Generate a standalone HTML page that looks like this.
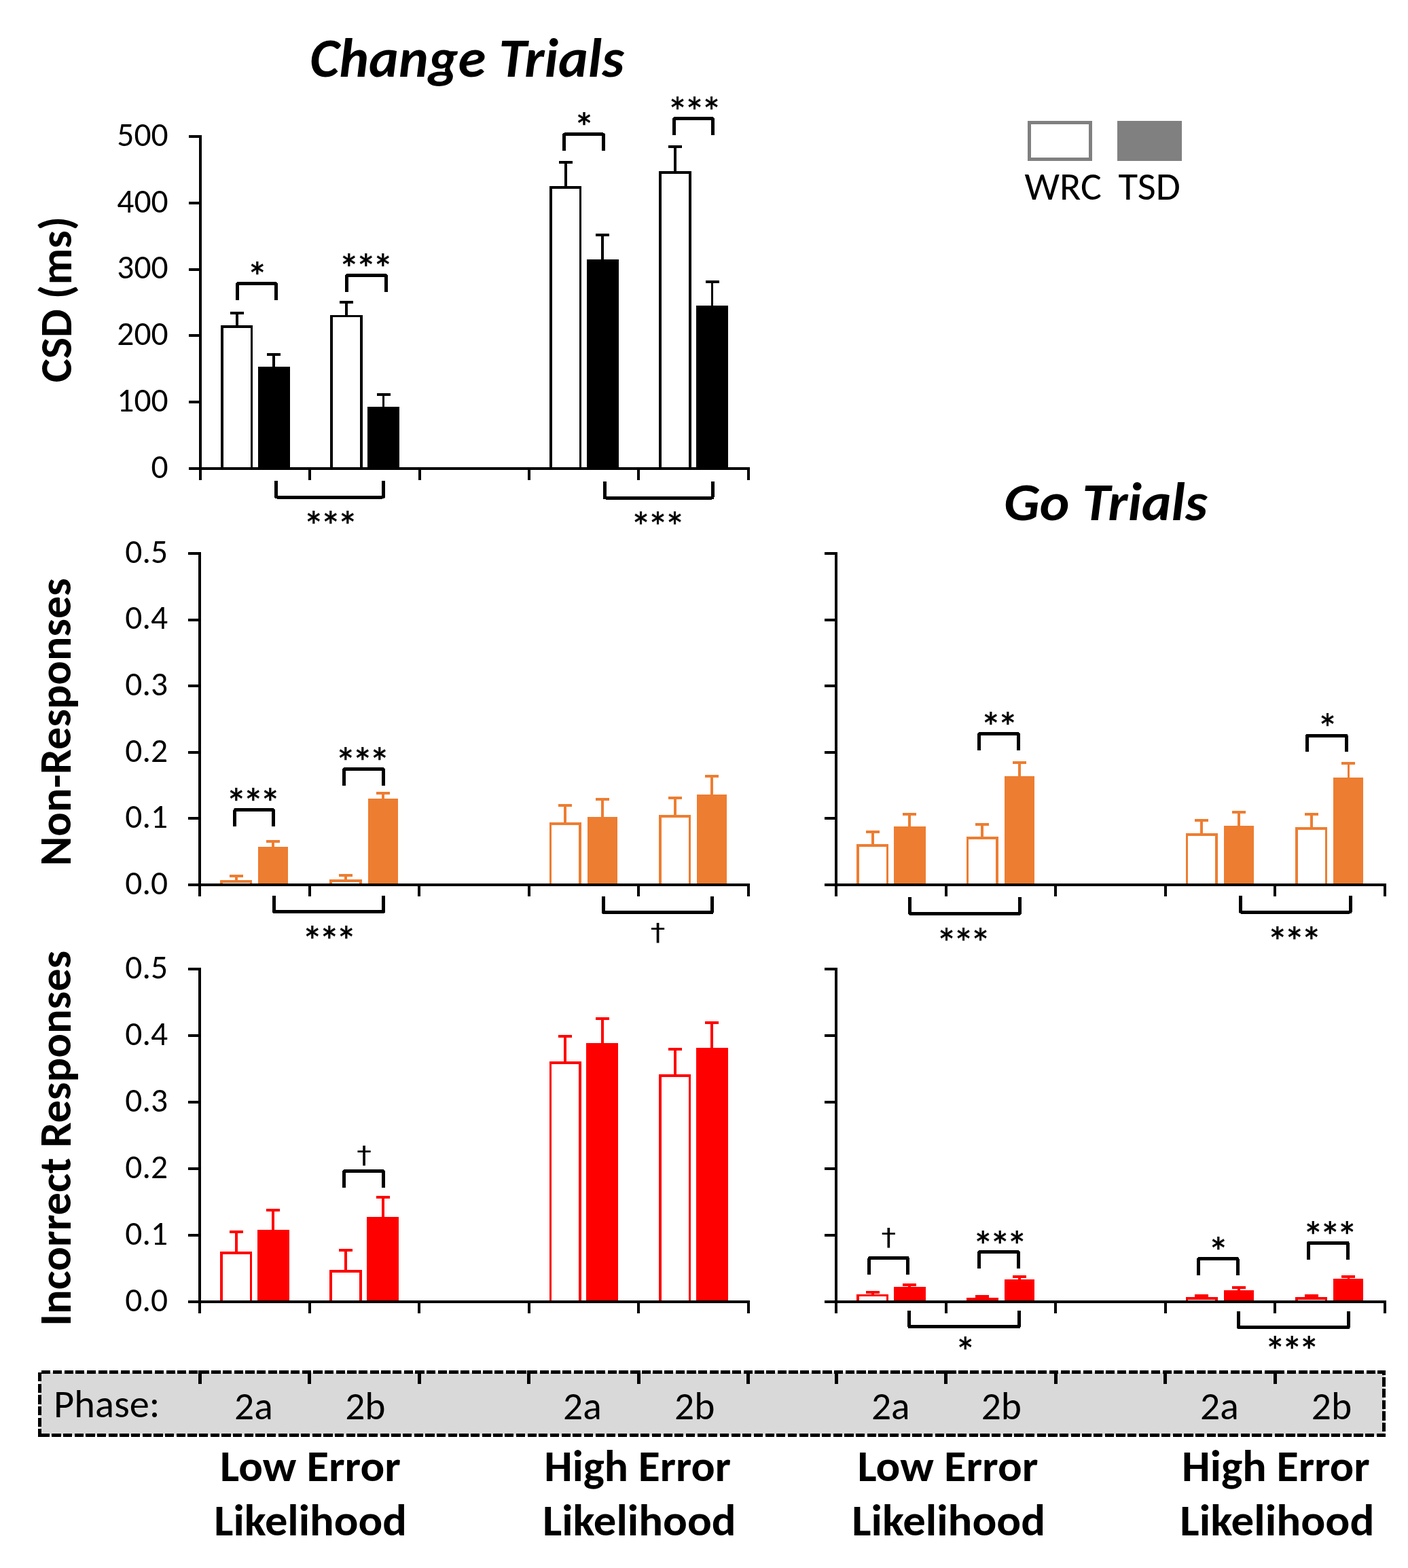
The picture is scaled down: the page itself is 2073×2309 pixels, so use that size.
<!DOCTYPE html>
<html><head><meta charset="utf-8"><title>Change and Go Trials</title>
<style>html,body{margin:0;padding:0;background:#fff;}svg{display:block;}text{font-size-adjust:cap-height 0.6417;}text[font-weight=bold]{font-size-adjust:cap-height 0.6485;}</style>
</head><body>
<svg width="2073" height="2309" viewBox="0 0 2073 2309" shape-rendering="crispEdges">
<rect x="0" y="0" width="2073" height="2309" fill="#fff"/>
<text x="456.21" y="113.49" font-size="80.69" font-family="Carlito, 'Liberation Sans', sans-serif" font-weight="bold" font-style="italic" fill="#000000" textLength="462.81" lengthAdjust="spacingAndGlyphs">Change Trials</text>
<text x="1477.9" y="765.6" font-size="79.72" font-family="Carlito, 'Liberation Sans', sans-serif" font-weight="bold" font-style="italic" fill="#000000" textLength="299.67" lengthAdjust="spacingAndGlyphs">Go Trials</text>
<rect x="1515.5" y="180.5" width="90" height="53.6" fill="#fff" stroke="#808080" stroke-width="5"/>
<rect x="1645" y="178" width="95" height="58.6" fill="#808080"/>
<text x="1508.51" y="293.52" font-size="56.77" font-family="Carlito, 'Liberation Sans', sans-serif" fill="#000000" textLength="113.27" lengthAdjust="spacingAndGlyphs">WRC</text>
<text x="1646.41" y="293.52" font-size="56.77" font-family="Carlito, 'Liberation Sans', sans-serif" fill="#000000" textLength="91.47" lengthAdjust="spacingAndGlyphs">TSD</text>
<text transform="translate(104.72 563.33) rotate(-90)" x="0" y="0" font-size="65.84" font-family="Carlito, 'Liberation Sans', sans-serif" font-weight="bold" fill="#000" textLength="244.76" lengthAdjust="spacingAndGlyphs">CSD (ms)</text>
<text transform="translate(103.81 1275.27) rotate(-90)" x="0" y="0" font-size="66.79" font-family="Carlito, 'Liberation Sans', sans-serif" font-weight="bold" fill="#000" textLength="423.92" lengthAdjust="spacingAndGlyphs">Non-Responses</text>
<text transform="translate(103.93 1952.66) rotate(-90)" x="0" y="0" font-size="66.05" font-family="Carlito, 'Liberation Sans', sans-serif" font-weight="bold" fill="#000" textLength="552.9" lengthAdjust="spacingAndGlyphs">Incorrect Responses</text>
<text x="247.6" y="703.84" font-size="49.5" font-family="Carlito, 'Liberation Sans', sans-serif" text-anchor="end" fill="#000" textLength="25.09" lengthAdjust="spacingAndGlyphs">0</text>
<text x="247.6" y="606.04" font-size="49.5" font-family="Carlito, 'Liberation Sans', sans-serif" text-anchor="end" fill="#000" textLength="75.27" lengthAdjust="spacingAndGlyphs">100</text>
<text x="247.6" y="508.24" font-size="49.5" font-family="Carlito, 'Liberation Sans', sans-serif" text-anchor="end" fill="#000" textLength="75.27" lengthAdjust="spacingAndGlyphs">200</text>
<text x="247.6" y="410.44" font-size="49.5" font-family="Carlito, 'Liberation Sans', sans-serif" text-anchor="end" fill="#000" textLength="75.27" lengthAdjust="spacingAndGlyphs">300</text>
<text x="247.6" y="312.64" font-size="49.5" font-family="Carlito, 'Liberation Sans', sans-serif" text-anchor="end" fill="#000" textLength="75.27" lengthAdjust="spacingAndGlyphs">400</text>
<text x="247.6" y="214.84" font-size="49.5" font-family="Carlito, 'Liberation Sans', sans-serif" text-anchor="end" fill="#000" textLength="75.27" lengthAdjust="spacingAndGlyphs">500</text>
<path d="M348.6 482V460.9M338.6 460.9H358.6" stroke="#000000" stroke-width="3.8" fill="none"/>
<path d="M403.2 542.8V521.9M393.2 521.9H413.2" stroke="#000000" stroke-width="3.8" fill="none"/>
<rect x="326.8" y="480.85" width="43.6" height="209.15" fill="#fff" stroke="#000000" stroke-width="3.7"/>
<rect x="381.4" y="541.65" width="43.6" height="148.35" fill="#000000" stroke="#000000" stroke-width="3.7"/>
<path d="M509.94 466.7V445.2M499.94 445.2H519.94" stroke="#000000" stroke-width="3.8" fill="none"/>
<path d="M564.54 601.9V580.9M554.54 580.9H574.54" stroke="#000000" stroke-width="3.8" fill="none"/>
<rect x="488.14" y="465.55" width="43.6" height="224.45" fill="#fff" stroke="#000000" stroke-width="3.7"/>
<rect x="542.74" y="600.75" width="43.6" height="89.25" fill="#000000" stroke="#000000" stroke-width="3.7"/>
<path d="M832.62 277.2V238.9M822.62 238.9H842.62" stroke="#000000" stroke-width="3.8" fill="none"/>
<path d="M887.22 384.9V345.9M877.22 345.9H897.22" stroke="#000000" stroke-width="3.8" fill="none"/>
<rect x="810.82" y="276.05" width="43.6" height="413.95" fill="#fff" stroke="#000000" stroke-width="3.7"/>
<rect x="865.42" y="383.75" width="43.6" height="306.25" fill="#000000" stroke="#000000" stroke-width="3.7"/>
<path d="M993.96 255V215.9M983.96 215.9H1003.96" stroke="#000000" stroke-width="3.8" fill="none"/>
<path d="M1048.56 453V414.9M1038.56 414.9H1058.56" stroke="#000000" stroke-width="3.8" fill="none"/>
<rect x="972.16" y="253.85" width="43.6" height="436.15" fill="#fff" stroke="#000000" stroke-width="3.7"/>
<rect x="1026.76" y="451.85" width="43.6" height="238.15" fill="#000000" stroke="#000000" stroke-width="3.7"/>
<line x1="295" y1="199" x2="295" y2="706.5" stroke="#000" stroke-width="4"/>
<line x1="278" y1="690" x2="295" y2="690" stroke="#000" stroke-width="4"/>
<line x1="278" y1="592.2" x2="295" y2="592.2" stroke="#000" stroke-width="4"/>
<line x1="278" y1="494.4" x2="295" y2="494.4" stroke="#000" stroke-width="4"/>
<line x1="278" y1="396.6" x2="295" y2="396.6" stroke="#000" stroke-width="4"/>
<line x1="278" y1="298.8" x2="295" y2="298.8" stroke="#000" stroke-width="4"/>
<line x1="278" y1="201" x2="295" y2="201" stroke="#000" stroke-width="4"/>
<line x1="293" y1="690" x2="1103.5" y2="690" stroke="#000" stroke-width="4"/>
<line x1="295" y1="690" x2="295" y2="706.5" stroke="#000" stroke-width="4"/>
<line x1="456.34" y1="690" x2="456.34" y2="706.5" stroke="#000" stroke-width="4"/>
<line x1="617.68" y1="690" x2="617.68" y2="706.5" stroke="#000" stroke-width="4"/>
<line x1="779.02" y1="690" x2="779.02" y2="706.5" stroke="#000" stroke-width="4"/>
<line x1="940.36" y1="690" x2="940.36" y2="706.5" stroke="#000" stroke-width="4"/>
<line x1="1101.7" y1="690" x2="1101.7" y2="706.5" stroke="#000" stroke-width="4"/>
<text x="247" y="1316.84" font-size="49.5" font-family="Carlito, 'Liberation Sans', sans-serif" text-anchor="end" fill="#000" textLength="62.68" lengthAdjust="spacingAndGlyphs">0.0</text>
<text x="247" y="1219.24" font-size="49.5" font-family="Carlito, 'Liberation Sans', sans-serif" text-anchor="end" fill="#000" textLength="62.68" lengthAdjust="spacingAndGlyphs">0.1</text>
<text x="247" y="1121.64" font-size="49.5" font-family="Carlito, 'Liberation Sans', sans-serif" text-anchor="end" fill="#000" textLength="62.68" lengthAdjust="spacingAndGlyphs">0.2</text>
<text x="247" y="1024.04" font-size="49.5" font-family="Carlito, 'Liberation Sans', sans-serif" text-anchor="end" fill="#000" textLength="62.68" lengthAdjust="spacingAndGlyphs">0.3</text>
<text x="247" y="926.44" font-size="49.5" font-family="Carlito, 'Liberation Sans', sans-serif" text-anchor="end" fill="#000" textLength="62.68" lengthAdjust="spacingAndGlyphs">0.4</text>
<text x="247" y="828.84" font-size="49.5" font-family="Carlito, 'Liberation Sans', sans-serif" text-anchor="end" fill="#000" textLength="62.68" lengthAdjust="spacingAndGlyphs">0.5</text>
<path d="M347.6 1299.2V1290.2M337.6 1290.2H357.6" stroke="#ED7D31" stroke-width="3.8" fill="none"/>
<path d="M402.2 1250.1V1239.1M392.2 1239.1H412.2" stroke="#ED7D31" stroke-width="3.8" fill="none"/>
<rect x="325.8" y="1298.05" width="43.6" height="4.95" fill="#fff" stroke="#ED7D31" stroke-width="3.7"/>
<rect x="380.2" y="1247.1" width="44" height="55.9" fill="#ED7D31"/>
<path d="M509.12 1298.2V1289.2M499.12 1289.2H519.12" stroke="#ED7D31" stroke-width="3.8" fill="none"/>
<path d="M563.72 1179.1V1168.3M553.72 1168.3H573.72" stroke="#ED7D31" stroke-width="3.8" fill="none"/>
<rect x="487.32" y="1297.05" width="43.6" height="5.95" fill="#fff" stroke="#ED7D31" stroke-width="3.7"/>
<rect x="541.72" y="1176.1" width="44" height="126.9" fill="#ED7D31"/>
<path d="M832.16 1214.1V1185.9M822.16 1185.9H842.16" stroke="#ED7D31" stroke-width="3.8" fill="none"/>
<path d="M886.76 1206V1176.9M876.76 1176.9H896.76" stroke="#ED7D31" stroke-width="3.8" fill="none"/>
<rect x="810.36" y="1212.95" width="43.6" height="90.05" fill="#fff" stroke="#ED7D31" stroke-width="3.7"/>
<rect x="864.76" y="1203" width="44" height="100" fill="#ED7D31"/>
<path d="M993.68 1203V1175.2M983.68 1175.2H1003.68" stroke="#ED7D31" stroke-width="3.8" fill="none"/>
<path d="M1048.28 1173V1143.1M1038.28 1143.1H1058.28" stroke="#ED7D31" stroke-width="3.8" fill="none"/>
<rect x="971.88" y="1201.85" width="43.6" height="101.15" fill="#fff" stroke="#ED7D31" stroke-width="3.7"/>
<rect x="1026.28" y="1170" width="44" height="133" fill="#ED7D31"/>
<line x1="294" y1="813" x2="294" y2="1319.5" stroke="#000" stroke-width="4"/>
<line x1="277" y1="1303" x2="294" y2="1303" stroke="#000" stroke-width="4"/>
<line x1="277" y1="1205.4" x2="294" y2="1205.4" stroke="#000" stroke-width="4"/>
<line x1="277" y1="1107.8" x2="294" y2="1107.8" stroke="#000" stroke-width="4"/>
<line x1="277" y1="1010.2" x2="294" y2="1010.2" stroke="#000" stroke-width="4"/>
<line x1="277" y1="912.6" x2="294" y2="912.6" stroke="#000" stroke-width="4"/>
<line x1="277" y1="815" x2="294" y2="815" stroke="#000" stroke-width="4"/>
<line x1="292" y1="1303" x2="1103.5" y2="1303" stroke="#000" stroke-width="4"/>
<line x1="294" y1="1303" x2="294" y2="1319.5" stroke="#000" stroke-width="4"/>
<line x1="455.52" y1="1303" x2="455.52" y2="1319.5" stroke="#000" stroke-width="4"/>
<line x1="617.04" y1="1303" x2="617.04" y2="1319.5" stroke="#000" stroke-width="4"/>
<line x1="778.56" y1="1303" x2="778.56" y2="1319.5" stroke="#000" stroke-width="4"/>
<line x1="940.08" y1="1303" x2="940.08" y2="1319.5" stroke="#000" stroke-width="4"/>
<line x1="1101.6" y1="1303" x2="1101.6" y2="1319.5" stroke="#000" stroke-width="4"/>
<path d="M1284.6 1246.3V1225.1M1274.6 1225.1H1294.6" stroke="#ED7D31" stroke-width="3.8" fill="none"/>
<path d="M1339.2 1220.2V1198.9M1329.2 1198.9H1349.2" stroke="#ED7D31" stroke-width="3.8" fill="none"/>
<rect x="1262.8" y="1245.15" width="43.6" height="57.85" fill="#fff" stroke="#ED7D31" stroke-width="3.7"/>
<rect x="1317.4" y="1219.05" width="43.6" height="83.95" fill="#ED7D31" stroke="#ED7D31" stroke-width="3.7"/>
<path d="M1446.16 1235V1214.2M1436.16 1214.2H1456.16" stroke="#ED7D31" stroke-width="3.8" fill="none"/>
<path d="M1500.76 1146V1123.2M1490.76 1123.2H1510.76" stroke="#ED7D31" stroke-width="3.8" fill="none"/>
<rect x="1424.36" y="1233.85" width="43.6" height="69.15" fill="#fff" stroke="#ED7D31" stroke-width="3.7"/>
<rect x="1478.76" y="1143" width="44" height="160" fill="#ED7D31"/>
<path d="M1769.28 1229.9V1208M1759.28 1208H1779.28" stroke="#ED7D31" stroke-width="3.8" fill="none"/>
<path d="M1823.88 1218.6V1196.2M1813.88 1196.2H1833.88" stroke="#ED7D31" stroke-width="3.8" fill="none"/>
<rect x="1747.48" y="1228.75" width="43.6" height="74.25" fill="#fff" stroke="#ED7D31" stroke-width="3.7"/>
<rect x="1801.88" y="1215.6" width="44" height="87.4" fill="#ED7D31"/>
<path d="M1930.84 1221V1199.1M1920.84 1199.1H1940.84" stroke="#ED7D31" stroke-width="3.8" fill="none"/>
<path d="M1985.44 1147.8V1123.9M1975.44 1123.9H1995.44" stroke="#ED7D31" stroke-width="3.8" fill="none"/>
<rect x="1909.04" y="1219.85" width="43.6" height="83.15" fill="#fff" stroke="#ED7D31" stroke-width="3.7"/>
<rect x="1963.44" y="1144.8" width="44" height="158.2" fill="#ED7D31"/>
<line x1="1231" y1="813" x2="1231" y2="1319.5" stroke="#000" stroke-width="4"/>
<line x1="1214" y1="1303" x2="1231" y2="1303" stroke="#000" stroke-width="4"/>
<line x1="1214" y1="1205.4" x2="1231" y2="1205.4" stroke="#000" stroke-width="4"/>
<line x1="1214" y1="1107.8" x2="1231" y2="1107.8" stroke="#000" stroke-width="4"/>
<line x1="1214" y1="1010.2" x2="1231" y2="1010.2" stroke="#000" stroke-width="4"/>
<line x1="1214" y1="912.6" x2="1231" y2="912.6" stroke="#000" stroke-width="4"/>
<line x1="1214" y1="815" x2="1231" y2="815" stroke="#000" stroke-width="4"/>
<line x1="1229" y1="1303" x2="2040.5" y2="1303" stroke="#000" stroke-width="4"/>
<line x1="1231" y1="1303" x2="1231" y2="1319.5" stroke="#000" stroke-width="4"/>
<line x1="1392.56" y1="1303" x2="1392.56" y2="1319.5" stroke="#000" stroke-width="4"/>
<line x1="1554.12" y1="1303" x2="1554.12" y2="1319.5" stroke="#000" stroke-width="4"/>
<line x1="1715.68" y1="1303" x2="1715.68" y2="1319.5" stroke="#000" stroke-width="4"/>
<line x1="1877.24" y1="1303" x2="1877.24" y2="1319.5" stroke="#000" stroke-width="4"/>
<line x1="2038.8" y1="1303" x2="2038.8" y2="1319.5" stroke="#000" stroke-width="4"/>
<text x="247" y="1930.84" font-size="49.5" font-family="Carlito, 'Liberation Sans', sans-serif" text-anchor="end" fill="#000" textLength="62.68" lengthAdjust="spacingAndGlyphs">0.0</text>
<text x="247" y="1832.92" font-size="49.5" font-family="Carlito, 'Liberation Sans', sans-serif" text-anchor="end" fill="#000" textLength="62.68" lengthAdjust="spacingAndGlyphs">0.1</text>
<text x="247" y="1735" font-size="49.5" font-family="Carlito, 'Liberation Sans', sans-serif" text-anchor="end" fill="#000" textLength="62.68" lengthAdjust="spacingAndGlyphs">0.2</text>
<text x="247" y="1637.08" font-size="49.5" font-family="Carlito, 'Liberation Sans', sans-serif" text-anchor="end" fill="#000" textLength="62.68" lengthAdjust="spacingAndGlyphs">0.3</text>
<text x="247" y="1539.16" font-size="49.5" font-family="Carlito, 'Liberation Sans', sans-serif" text-anchor="end" fill="#000" textLength="62.68" lengthAdjust="spacingAndGlyphs">0.4</text>
<text x="247" y="1441.24" font-size="49.5" font-family="Carlito, 'Liberation Sans', sans-serif" text-anchor="end" fill="#000" textLength="62.68" lengthAdjust="spacingAndGlyphs">0.5</text>
<path d="M347.6 1846.2V1813.9M337.6 1813.9H357.6" stroke="#FF0000" stroke-width="3.8" fill="none"/>
<path d="M402.2 1813.9V1781.9M392.2 1781.9H412.2" stroke="#FF0000" stroke-width="3.8" fill="none"/>
<rect x="325.8" y="1845.05" width="43.6" height="71.95" fill="#fff" stroke="#FF0000" stroke-width="3.7"/>
<rect x="380.4" y="1812.75" width="43.6" height="104.25" fill="#FF0000" stroke="#FF0000" stroke-width="3.7"/>
<path d="M509.12 1873V1841.1M499.12 1841.1H519.12" stroke="#FF0000" stroke-width="3.8" fill="none"/>
<path d="M563.72 1795V1762.9M553.72 1762.9H573.72" stroke="#FF0000" stroke-width="3.8" fill="none"/>
<rect x="487.32" y="1871.85" width="43.6" height="45.15" fill="#fff" stroke="#FF0000" stroke-width="3.7"/>
<rect x="541.92" y="1793.85" width="43.6" height="123.15" fill="#FF0000" stroke="#FF0000" stroke-width="3.7"/>
<path d="M832.16 1566V1525.8M822.16 1525.8H842.16" stroke="#FF0000" stroke-width="3.8" fill="none"/>
<path d="M886.76 1538.9V1499.9M876.76 1499.9H896.76" stroke="#FF0000" stroke-width="3.8" fill="none"/>
<rect x="810.36" y="1564.85" width="43.6" height="352.15" fill="#fff" stroke="#FF0000" stroke-width="3.7"/>
<rect x="864.96" y="1537.75" width="43.6" height="379.25" fill="#FF0000" stroke="#FF0000" stroke-width="3.7"/>
<path d="M993.68 1585V1544.9M983.68 1544.9H1003.68" stroke="#FF0000" stroke-width="3.8" fill="none"/>
<path d="M1048.28 1545.9V1506M1038.28 1506H1058.28" stroke="#FF0000" stroke-width="3.8" fill="none"/>
<rect x="971.88" y="1583.85" width="43.6" height="333.15" fill="#fff" stroke="#FF0000" stroke-width="3.7"/>
<rect x="1026.48" y="1544.75" width="43.6" height="372.25" fill="#FF0000" stroke="#FF0000" stroke-width="3.7"/>
<line x1="294" y1="1425.4" x2="294" y2="1933.5" stroke="#000" stroke-width="4"/>
<line x1="277" y1="1917" x2="294" y2="1917" stroke="#000" stroke-width="4"/>
<line x1="277" y1="1819.08" x2="294" y2="1819.08" stroke="#000" stroke-width="4"/>
<line x1="277" y1="1721.16" x2="294" y2="1721.16" stroke="#000" stroke-width="4"/>
<line x1="277" y1="1623.24" x2="294" y2="1623.24" stroke="#000" stroke-width="4"/>
<line x1="277" y1="1525.32" x2="294" y2="1525.32" stroke="#000" stroke-width="4"/>
<line x1="277" y1="1427.4" x2="294" y2="1427.4" stroke="#000" stroke-width="4"/>
<line x1="292" y1="1917" x2="1103.5" y2="1917" stroke="#000" stroke-width="4"/>
<line x1="294" y1="1917" x2="294" y2="1933.5" stroke="#000" stroke-width="4"/>
<line x1="455.52" y1="1917" x2="455.52" y2="1933.5" stroke="#000" stroke-width="4"/>
<line x1="617.04" y1="1917" x2="617.04" y2="1933.5" stroke="#000" stroke-width="4"/>
<line x1="778.56" y1="1917" x2="778.56" y2="1933.5" stroke="#000" stroke-width="4"/>
<line x1="940.08" y1="1917" x2="940.08" y2="1933.5" stroke="#000" stroke-width="4"/>
<line x1="1101.6" y1="1917" x2="1101.6" y2="1933.5" stroke="#000" stroke-width="4"/>
<path d="M1284.6 1908.6V1902.9M1274.6 1902.9H1294.6" stroke="#FF0000" stroke-width="3.8" fill="none"/>
<path d="M1339.2 1897.7V1891.9M1329.2 1891.9H1349.2" stroke="#FF0000" stroke-width="3.8" fill="none"/>
<rect x="1262.8" y="1907.45" width="43.6" height="9.55" fill="#fff" stroke="#FF0000" stroke-width="3.7"/>
<rect x="1317.4" y="1896.55" width="43.6" height="20.45" fill="#FF0000" stroke="#FF0000" stroke-width="3.7"/>
<path d="M1446.16 1914.5V1908.9M1436.16 1908.9H1456.16" stroke="#FF0000" stroke-width="3.8" fill="none"/>
<path d="M1500.76 1886.6V1879.8M1490.76 1879.8H1510.76" stroke="#FF0000" stroke-width="3.8" fill="none"/>
<rect x="1424.36" y="1913.35" width="43.6" height="3.65" fill="#fff" stroke="#FF0000" stroke-width="3.7"/>
<rect x="1478.76" y="1883.6" width="44" height="33.4" fill="#FF0000"/>
<path d="M1769.28 1913V1907.9M1759.28 1907.9H1779.28" stroke="#FF0000" stroke-width="3.8" fill="none"/>
<path d="M1823.88 1902.9V1896M1813.88 1896H1833.88" stroke="#FF0000" stroke-width="3.8" fill="none"/>
<rect x="1747.48" y="1911.85" width="43.6" height="5.15" fill="#fff" stroke="#FF0000" stroke-width="3.7"/>
<rect x="1801.88" y="1899.9" width="44" height="17.1" fill="#FF0000"/>
<path d="M1930.84 1913V1907.9M1920.84 1907.9H1940.84" stroke="#FF0000" stroke-width="3.8" fill="none"/>
<path d="M1985.44 1885.8V1879.8M1975.44 1879.8H1995.44" stroke="#FF0000" stroke-width="3.8" fill="none"/>
<rect x="1909.04" y="1911.85" width="43.6" height="5.15" fill="#fff" stroke="#FF0000" stroke-width="3.7"/>
<rect x="1963.44" y="1882.8" width="44" height="34.2" fill="#FF0000"/>
<line x1="1231" y1="1425.4" x2="1231" y2="1933.5" stroke="#000" stroke-width="4"/>
<line x1="1214" y1="1917" x2="1231" y2="1917" stroke="#000" stroke-width="4"/>
<line x1="1214" y1="1819.08" x2="1231" y2="1819.08" stroke="#000" stroke-width="4"/>
<line x1="1214" y1="1721.16" x2="1231" y2="1721.16" stroke="#000" stroke-width="4"/>
<line x1="1214" y1="1623.24" x2="1231" y2="1623.24" stroke="#000" stroke-width="4"/>
<line x1="1214" y1="1525.32" x2="1231" y2="1525.32" stroke="#000" stroke-width="4"/>
<line x1="1214" y1="1427.4" x2="1231" y2="1427.4" stroke="#000" stroke-width="4"/>
<line x1="1229" y1="1917" x2="2040.5" y2="1917" stroke="#000" stroke-width="4"/>
<line x1="1231" y1="1917" x2="1231" y2="1933.5" stroke="#000" stroke-width="4"/>
<line x1="1392.56" y1="1917" x2="1392.56" y2="1933.5" stroke="#000" stroke-width="4"/>
<line x1="1554.12" y1="1917" x2="1554.12" y2="1933.5" stroke="#000" stroke-width="4"/>
<line x1="1715.68" y1="1917" x2="1715.68" y2="1933.5" stroke="#000" stroke-width="4"/>
<line x1="1877.24" y1="1917" x2="1877.24" y2="1933.5" stroke="#000" stroke-width="4"/>
<line x1="2038.8" y1="1917" x2="2038.8" y2="1933.5" stroke="#000" stroke-width="4"/>
<path d="M349.5 442V419Q349.5 417.5 351 417.5H405Q406.5 417.5 406.5 419V442" fill="none" stroke="#000" stroke-width="5"/>
<path d="M510.5 429.5V407Q510.5 405.5 512 405.5H567Q568.5 405.5 568.5 407V429.5" fill="none" stroke="#000" stroke-width="5"/>
<path d="M830.5 222V199.4Q830.5 197.9 832 197.9H887Q888.5 197.9 888.5 199.4V222" fill="none" stroke="#000" stroke-width="5"/>
<path d="M992.5 198.7V176Q992.5 174.5 994 174.5H1048Q1049.5 174.5 1049.5 176V198.7" fill="none" stroke="#000" stroke-width="5"/>
<path d="M406.5 708V730.5Q406.5 732 408 732H563Q564.5 732 564.5 730.5V708" fill="none" stroke="#000" stroke-width="5"/>
<path d="M890 709.2V731.5Q890 733 891.5 733H1047.6Q1049.1 733 1049.1 731.5V709.2" fill="none" stroke="#000" stroke-width="5"/>
<path d="M345.8 1216.5V1194.2Q345.8 1192.7 347.3 1192.7H401Q402.5 1192.7 402.5 1194.2V1216.5" fill="none" stroke="#000" stroke-width="5"/>
<path d="M506.5 1156.7V1134Q506.5 1132.5 508 1132.5H562.8Q564.3 1132.5 564.3 1134V1156.7" fill="none" stroke="#000" stroke-width="5"/>
<path d="M403.5 1319.3V1341.4Q403.5 1342.9 405 1342.9H563.2Q564.7 1342.9 564.7 1341.4V1319.3" fill="none" stroke="#000" stroke-width="5"/>
<path d="M888.5 1320V1342.4Q888.5 1343.9 890 1343.9H1046.7Q1048.2 1343.9 1048.2 1342.4V1320" fill="none" stroke="#000" stroke-width="5"/>
<path d="M1441.6 1104.9V1082.2Q1441.6 1080.7 1443.1 1080.7H1497.8Q1499.3 1080.7 1499.3 1082.2V1104.9" fill="none" stroke="#000" stroke-width="5"/>
<path d="M1924.4 1106.9V1084.5Q1924.4 1083 1925.9 1083H1980.8Q1982.3 1083 1982.3 1084.5V1106.9" fill="none" stroke="#000" stroke-width="5"/>
<path d="M1339.6 1321V1343.8Q1339.6 1345.3 1341.1 1345.3H1500Q1501.5 1345.3 1501.5 1343.8V1321" fill="none" stroke="#000" stroke-width="5"/>
<path d="M1826.5 1319.3V1341.6Q1826.5 1343.1 1828 1343.1H1986.7Q1988.2 1343.1 1988.2 1341.6V1319.3" fill="none" stroke="#000" stroke-width="5"/>
<path d="M506.5 1749V1726Q506.5 1724.5 508 1724.5H562.9Q564.4 1724.5 564.4 1726V1749" fill="none" stroke="#000" stroke-width="5"/>
<path d="M1279.9 1876.9V1853.8Q1279.9 1852.3 1281.4 1852.3H1335Q1336.5 1852.3 1336.5 1853.8V1876.9" fill="none" stroke="#000" stroke-width="5"/>
<path d="M1441.6 1867.6V1845Q1441.6 1843.5 1443.1 1843.5H1497.8Q1499.3 1843.5 1499.3 1845V1867.6" fill="none" stroke="#000" stroke-width="5"/>
<path d="M1764.8 1877.5V1854.8Q1764.8 1853.3 1766.3 1853.3H1820.6Q1822.1 1853.3 1822.1 1854.8V1877.5" fill="none" stroke="#000" stroke-width="5"/>
<path d="M1926.5 1854.8V1831.5Q1926.5 1830 1928 1830H1982.8Q1984.3 1830 1984.3 1831.5V1854.8" fill="none" stroke="#000" stroke-width="5"/>
<path d="M1338.6 1930V1952.4Q1338.6 1953.9 1340.1 1953.9H1498.8Q1500.3 1953.9 1500.3 1952.4V1930" fill="none" stroke="#000" stroke-width="5"/>
<path d="M1823.5 1931V1953.4Q1823.5 1954.9 1825 1954.9H1983.8Q1985.3 1954.9 1985.3 1953.4V1931" fill="none" stroke="#000" stroke-width="5"/>
<text x="363.38" y="429.14" font-size="61.5" font-family="Carlito, 'Liberation Sans', sans-serif" fill="#000" stroke="#000" stroke-width="0.6">*</text>
<text x="498.38 523.38 548.38" y="416.69" font-size="61.5" font-family="Carlito, 'Liberation Sans', sans-serif" fill="#000" stroke="#000" stroke-width="0.6">***</text>
<text x="844.78" y="208.79" font-size="61.5" font-family="Carlito, 'Liberation Sans', sans-serif" fill="#000" stroke="#000" stroke-width="0.6">*</text>
<text x="982.28 1007.28 1032.28" y="185.94" font-size="61.5" font-family="Carlito, 'Liberation Sans', sans-serif" fill="#000" stroke="#000" stroke-width="0.6">***</text>
<text x="446.38 471.38 496.38" y="796.34" font-size="61.5" font-family="Carlito, 'Liberation Sans', sans-serif" fill="#000" stroke="#000" stroke-width="0.6">***</text>
<text x="928.28 953.28 978.28" y="796.79" font-size="61.5" font-family="Carlito, 'Liberation Sans', sans-serif" fill="#000" stroke="#000" stroke-width="0.6">***</text>
<text x="332.38 357.38 382.38" y="1203.74" font-size="61.5" font-family="Carlito, 'Liberation Sans', sans-serif" fill="#000" stroke="#000" stroke-width="0.6">***</text>
<text x="493.38 518.38 543.38" y="1143.79" font-size="61.5" font-family="Carlito, 'Liberation Sans', sans-serif" fill="#000" stroke="#000" stroke-width="0.6">***</text>
<text x="444.48 469.48 494.48" y="1406.99" font-size="61.5" font-family="Carlito, 'Liberation Sans', sans-serif" fill="#000" stroke="#000" stroke-width="0.6">***</text>
<text x="1443.38 1468.38" y="1091.99" font-size="61.5" font-family="Carlito, 'Liberation Sans', sans-serif" fill="#000" stroke="#000" stroke-width="0.6">**</text>
<text x="1939.28" y="1093.79" font-size="61.5" font-family="Carlito, 'Liberation Sans', sans-serif" fill="#000" stroke="#000" stroke-width="0.6">*</text>
<text x="1378.18 1403.18 1428.18" y="1409.89" font-size="61.5" font-family="Carlito, 'Liberation Sans', sans-serif" fill="#000" stroke="#000" stroke-width="0.6">***</text>
<text x="1865.48 1890.48 1915.48" y="1407.89" font-size="61.5" font-family="Carlito, 'Liberation Sans', sans-serif" fill="#000" stroke="#000" stroke-width="0.6">***</text>
<text x="1431.98 1456.98 1481.98" y="1855.79" font-size="61.5" font-family="Carlito, 'Liberation Sans', sans-serif" fill="#000" stroke="#000" stroke-width="0.6">***</text>
<text x="1778.38" y="1864.84" font-size="61.5" font-family="Carlito, 'Liberation Sans', sans-serif" fill="#000" stroke="#000" stroke-width="0.6">*</text>
<text x="1917.88 1942.88 1967.88" y="1841.89" font-size="61.5" font-family="Carlito, 'Liberation Sans', sans-serif" fill="#000" stroke="#000" stroke-width="0.6">***</text>
<text x="1406.08" y="2011.79" font-size="61.5" font-family="Carlito, 'Liberation Sans', sans-serif" fill="#000" stroke="#000" stroke-width="0.6">*</text>
<text x="1862.08 1887.08 1912.08" y="2010.59" font-size="61.5" font-family="Carlito, 'Liberation Sans', sans-serif" fill="#000" stroke="#000" stroke-width="0.6">***</text>
<text transform="translate(968.5 1384.58) scale(1.24 1)" x="-8.73" y="0" font-size="34.91" font-family="'DejaVu Sans', sans-serif" style="font-size-adjust:none" fill="#000">&#8224;</text>
<text transform="translate(536.2 1712.61) scale(1.25 1)" x="-8.67" y="0" font-size="34.67" font-family="'DejaVu Sans', sans-serif" style="font-size-adjust:none" fill="#000">&#8224;</text>
<text transform="translate(1308.4 1833.66) scale(1.23 1)" x="-8.79" y="0" font-size="35.15" font-family="'DejaVu Sans', sans-serif" style="font-size-adjust:none" fill="#000">&#8224;</text>
<rect x="58.5" y="2020.5" width="1979" height="93" fill="#D9D9D9"/>
<path d="M61.2 2020.5H2040" stroke="#000" stroke-width="5" fill="none" stroke-dasharray="13.25 3.42"/>
<path d="M2037.5 2018V2116" stroke="#000" stroke-width="5" fill="none" stroke-dasharray="13.25 3.42" stroke-dashoffset="6.25"/>
<path d="M2040 2113.5H56" stroke="#000" stroke-width="5" fill="none" stroke-dasharray="13.25 3.42"/>
<path d="M58.5 2021V2116" stroke="#000" stroke-width="5" fill="none" stroke-dasharray="13.25 3.42"/>
<line x1="294" y1="2018" x2="294" y2="2038" stroke="#000" stroke-width="5"/>
<line x1="455.52" y1="2018" x2="455.52" y2="2038" stroke="#000" stroke-width="5"/>
<line x1="617.04" y1="2018" x2="617.04" y2="2038" stroke="#000" stroke-width="5"/>
<line x1="778.56" y1="2018" x2="778.56" y2="2038" stroke="#000" stroke-width="5"/>
<line x1="940.08" y1="2018" x2="940.08" y2="2038" stroke="#000" stroke-width="5"/>
<line x1="1101.6" y1="2018" x2="1101.6" y2="2038" stroke="#000" stroke-width="5"/>
<line x1="1231" y1="2018" x2="1231" y2="2038" stroke="#000" stroke-width="5"/>
<line x1="1392.56" y1="2018" x2="1392.56" y2="2038" stroke="#000" stroke-width="5"/>
<line x1="1554.12" y1="2018" x2="1554.12" y2="2038" stroke="#000" stroke-width="5"/>
<line x1="1715.68" y1="2018" x2="1715.68" y2="2038" stroke="#000" stroke-width="5"/>
<line x1="1877.24" y1="2018" x2="1877.24" y2="2038" stroke="#000" stroke-width="5"/>
<text x="79.11" y="2087.24" font-size="57.5" font-family="Carlito, 'Liberation Sans', sans-serif" fill="#000000" textLength="156.31" lengthAdjust="spacingAndGlyphs">Phase:</text>
<text x="345.01" y="2089.9" font-size="57.5" font-family="Carlito, 'Liberation Sans', sans-serif" fill="#000000" textLength="56.69" lengthAdjust="spacingAndGlyphs">2a</text>
<text x="508.2" y="2089.9" font-size="57.5" font-family="Carlito, 'Liberation Sans', sans-serif" fill="#000000" textLength="59.36" lengthAdjust="spacingAndGlyphs">2b</text>
<text x="829.11" y="2089.9" font-size="57.5" font-family="Carlito, 'Liberation Sans', sans-serif" fill="#000000" textLength="56.69" lengthAdjust="spacingAndGlyphs">2a</text>
<text x="993" y="2089.9" font-size="57.5" font-family="Carlito, 'Liberation Sans', sans-serif" fill="#000000" textLength="59.36" lengthAdjust="spacingAndGlyphs">2b</text>
<text x="1282.91" y="2089.9" font-size="57.5" font-family="Carlito, 'Liberation Sans', sans-serif" fill="#000000" textLength="56.69" lengthAdjust="spacingAndGlyphs">2a</text>
<text x="1444.7" y="2089.9" font-size="57.5" font-family="Carlito, 'Liberation Sans', sans-serif" fill="#000000" textLength="59.36" lengthAdjust="spacingAndGlyphs">2b</text>
<text x="1767.11" y="2089.9" font-size="57.5" font-family="Carlito, 'Liberation Sans', sans-serif" fill="#000000" textLength="56.69" lengthAdjust="spacingAndGlyphs">2a</text>
<text x="1930.8" y="2089.9" font-size="57.5" font-family="Carlito, 'Liberation Sans', sans-serif" fill="#000000" textLength="59.36" lengthAdjust="spacingAndGlyphs">2b</text>
<text x="324.14" y="2181.2" font-size="65" font-family="Carlito, 'Liberation Sans', sans-serif" font-weight="bold" fill="#000000" textLength="265.67" lengthAdjust="spacingAndGlyphs">Low Error</text>
<text x="315.34" y="2260.7" font-size="65" font-family="Carlito, 'Liberation Sans', sans-serif" font-weight="bold" fill="#000000" textLength="283.6" lengthAdjust="spacingAndGlyphs">Likelihood</text>
<text x="801.3" y="2181.2" font-size="65" font-family="Carlito, 'Liberation Sans', sans-serif" font-weight="bold" fill="#000000" textLength="274.75" lengthAdjust="spacingAndGlyphs">High Error</text>
<text x="798.93" y="2260.7" font-size="65" font-family="Carlito, 'Liberation Sans', sans-serif" font-weight="bold" fill="#000000" textLength="284.73" lengthAdjust="spacingAndGlyphs">Likelihood</text>
<text x="1262.44" y="2181.2" font-size="65" font-family="Carlito, 'Liberation Sans', sans-serif" font-weight="bold" fill="#000000" textLength="265.98" lengthAdjust="spacingAndGlyphs">Low Error</text>
<text x="1254.33" y="2260.7" font-size="65" font-family="Carlito, 'Liberation Sans', sans-serif" font-weight="bold" fill="#000000" textLength="284.73" lengthAdjust="spacingAndGlyphs">Likelihood</text>
<text x="1740.07" y="2181.2" font-size="65" font-family="Carlito, 'Liberation Sans', sans-serif" font-weight="bold" fill="#000000" textLength="276.58" lengthAdjust="spacingAndGlyphs">High Error</text>
<text x="1737.31" y="2260.7" font-size="65" font-family="Carlito, 'Liberation Sans', sans-serif" font-weight="bold" fill="#000000" textLength="286.17" lengthAdjust="spacingAndGlyphs">Likelihood</text>
</svg>
</body></html>
